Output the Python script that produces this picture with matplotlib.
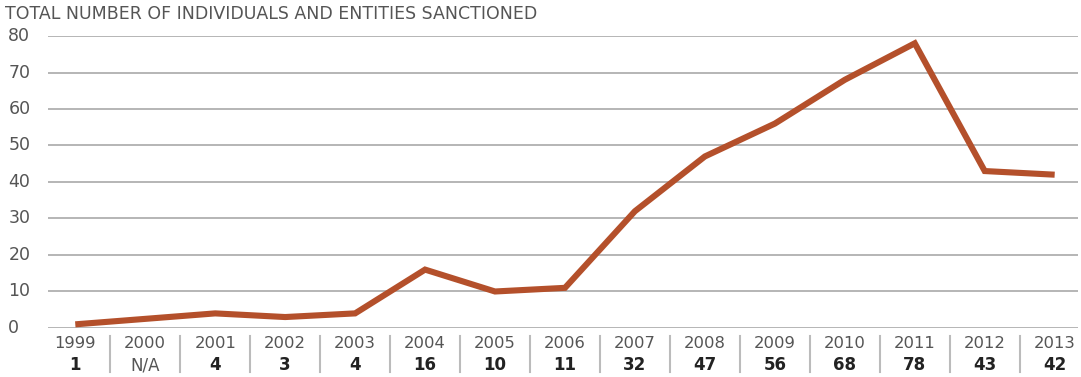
import numpy as np
import matplotlib.pyplot as plt
import matplotlib.transforms as mtransforms

plt.rcParams['font.family'] = ['DejaVu Sans']

years = ['1999', '2000', '2001', '2002', '2003', '2004', '2005', '2006',
         '2007', '2008', '2009', '2010', '2011', '2012', '2013']
counts = [1, None, 4, 3, 4, 16, 10, 11, 32, 47, 56, 68, 78, 43, 42]
count_labels = ['1', 'N/A', '4', '3', '4', '16', '10', '11', '32', '47',
                '56', '68', '78', '43', '42']
y_ticks = [0, 10, 20, 30, 40, 50, 60, 70, 80]

line_color = '#b4502b'
grid_color = '#b0b0b0'
text_gray = '#555555'

fig = plt.figure(figsize=(10.81, 3.77), dpi=100)
ax = fig.add_axes([0.0444, 0.130, 0.9526, 0.7745])

# line skips the N/A year
xs = [i for i, c in enumerate(counts) if c is not None]
ys = [c for c in counts if c is not None]
ax.plot(xs, ys, color=line_color, linewidth=4.4, solid_joinstyle='miter',
        solid_capstyle='butt', zorder=3)

ax.set_xlim(-0.39, 14.33)
ax.set_ylim(0, 80)
ax.set_xticks([])
ax.set_yticks([])
for s in ax.spines.values():
    s.set_visible(False)

ytrans = mtransforms.blended_transform_factory(ax.transAxes, ax.transData)
for v in y_ticks:
    ax.axhline(v, color=grid_color, linewidth=1.3, zorder=1)
    ax.text(-0.0385, v, str(v), transform=ytrans, ha='left', va='center',
            fontsize=12.5, color=text_gray, clip_on=False)

# table under the x axis
trans = mtransforms.blended_transform_factory(ax.transData, ax.transAxes)
for i, (yr, lab) in enumerate(zip(years, count_labels)):
    ax.text(i, -0.052, yr, transform=trans, ha='center', va='center',
            fontsize=11.8, color=text_gray, clip_on=False)
    ax.text(i, -0.128, lab, transform=trans, ha='center', va='center',
            fontsize=12, color='#222222' if lab != 'N/A' else text_gray,
            fontweight='bold' if lab != 'N/A' else 'normal', clip_on=False)
    if i < len(years) - 1:
        ax.plot([i + 0.5, i + 0.5], [-0.027, -0.152], transform=trans,
                color='#bbbbbb', linewidth=1.5, clip_on=False)

fig.text(0.005, 0.962, 'TOTAL NUMBER OF INDIVIDUALS AND ENTITIES SANCTIONED',
         fontsize=12.5, color=text_gray, ha='left', va='center')

fig.savefig('out.png', dpi=100)
